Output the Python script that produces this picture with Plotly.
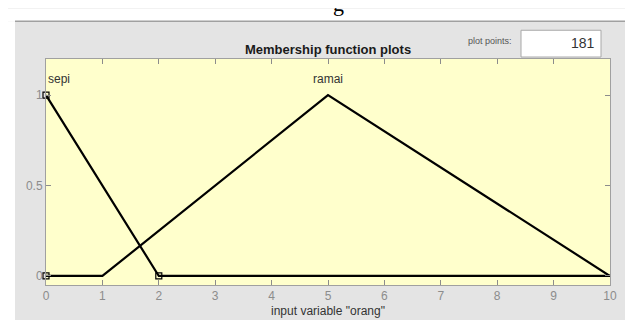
import plotly.graph_objects as go

# ---- data ----
sepi_x = [0, 2, 10]
sepi_y = [1, 0, 0]
ramai_x = [0, 1, 5, 10]
ramai_y = [0, 0, 1, 0]
marker_x = [0, 0, 2]
marker_y = [1, 0, 0]
mf_names = ["sepi", "ramai"]
mf_label_x = [0, 5]
x_ticks = list(range(0, 11))
y_ticks = [0, 0.5, 1]
y_tick_labels = ["0", "0.5", "1"]
plot_points = "181"

W, H = 633, 320
L, R, T, B = 38, 31, 51, 41
PW, PH = W - L - R, H - T - B

def px(x):
    return (x - L) / PW

def py(y):
    return (H - B - y) / PH

FONT = "Liberation Sans Narrow, Liberation Sans, Arial, sans-serif"

fig = go.Figure()
fig.add_trace(go.Scatter(x=sepi_x, y=sepi_y, mode="lines",
                         line=dict(color="black", width=2.2), showlegend=False))
fig.add_trace(go.Scatter(x=ramai_x, y=ramai_y, mode="lines",
                         line=dict(color="black", width=2.2), showlegend=False))
fig.add_trace(go.Scatter(x=marker_x, y=marker_y, mode="markers",
                         marker=dict(symbol="square-open", size=6, color="black",
                                     line=dict(width=1.2)),
                         showlegend=False, cliponaxis=False))

shapes = [
    dict(type="rect", xref="paper", yref="paper", x0=px(0), x1=px(W), y0=py(13), y1=py(0),
         fillcolor="white", line=dict(width=0), layer="below"),
    dict(type="rect", xref="paper", yref="paper", x0=px(0), x1=px(7), y0=py(H), y1=py(13),
         fillcolor="white", line=dict(width=0), layer="below"),
    dict(type="line", xref="paper", yref="paper", x0=px(7), x1=px(W), y0=py(13), y1=py(13),
         line=dict(color="#a0a0a0", width=1.5)),
    dict(type="rect", xref="paper", yref="paper", x0=px(513), x1=px(593), y0=py(49), y1=py(22),
         fillcolor="white", line=dict(color="#a8a8a8", width=1)),
]

annotations = [
    dict(text="<b>Membership function plots</b>", xref="paper", yref="paper",
         x=px(320), y=py(41), xanchor="center", yanchor="middle", showarrow=False,
         font=dict(family=FONT, size=13, color="#1a1a1a")),
    dict(text="plot points:", xref="paper", yref="paper",
         x=px(506), y=py(33), xanchor="right", yanchor="middle", showarrow=False,
         font=dict(family=FONT, size=9, color="#555555")),
    dict(text=plot_points, xref="paper", yref="paper",
         x=px(589), y=py(35), xanchor="right", yanchor="middle", showarrow=False,
         font=dict(family=FONT, size=14, color="#333333")),
    dict(text="g", xref="paper", yref="paper",
         x=px(330), y=py(10), xanchor="center", yanchor="bottom", showarrow=False,
         font=dict(family="Liberation Serif, serif", size=22, color="black")),
    dict(text=mf_names[0], xref="x", yref="y", x=mf_label_x[0], y=1.09,
         xanchor="left", yanchor="middle", showarrow=False,
         font=dict(family=FONT, size=12, color="#333333")),
    dict(text=mf_names[1], xref="x", yref="y", x=mf_label_x[1], y=1.09,
         xanchor="center", yanchor="middle", showarrow=False,
         font=dict(family=FONT, size=12, color="#333333")),
]

fig.update_layout(
    width=W, height=H,
    margin=dict(l=L, r=R, t=T, b=B, pad=0),
    paper_bgcolor="#e4e4e4",
    plot_bgcolor="#ffffcc",
    shapes=shapes,
    annotations=annotations,
    xaxis=dict(range=[0, 10], tickvals=x_ticks, ticks="inside", ticklen=5,
               tickcolor="#8c8c8c", showgrid=False, zeroline=False,
               showline=True, linecolor="#a0a0a0", linewidth=1, mirror="ticks",
               tickfont=dict(family=FONT, size=12, color="#8c8c8c"),
               title=dict(text='input variable "orang"', standoff=4,
                          font=dict(family=FONT, size=12, color="#333333"))),
    yaxis=dict(range=[-0.05, 1.2], tickvals=y_ticks, ticktext=y_tick_labels,
               ticks="inside", ticklen=5, tickcolor="#8c8c8c", showgrid=False,
               zeroline=False, showline=True, linecolor="#a0a0a0", linewidth=1,
               mirror="ticks",
               tickfont=dict(family=FONT, size=12, color="#8c8c8c")),
)

fig.write_html("out.html")
